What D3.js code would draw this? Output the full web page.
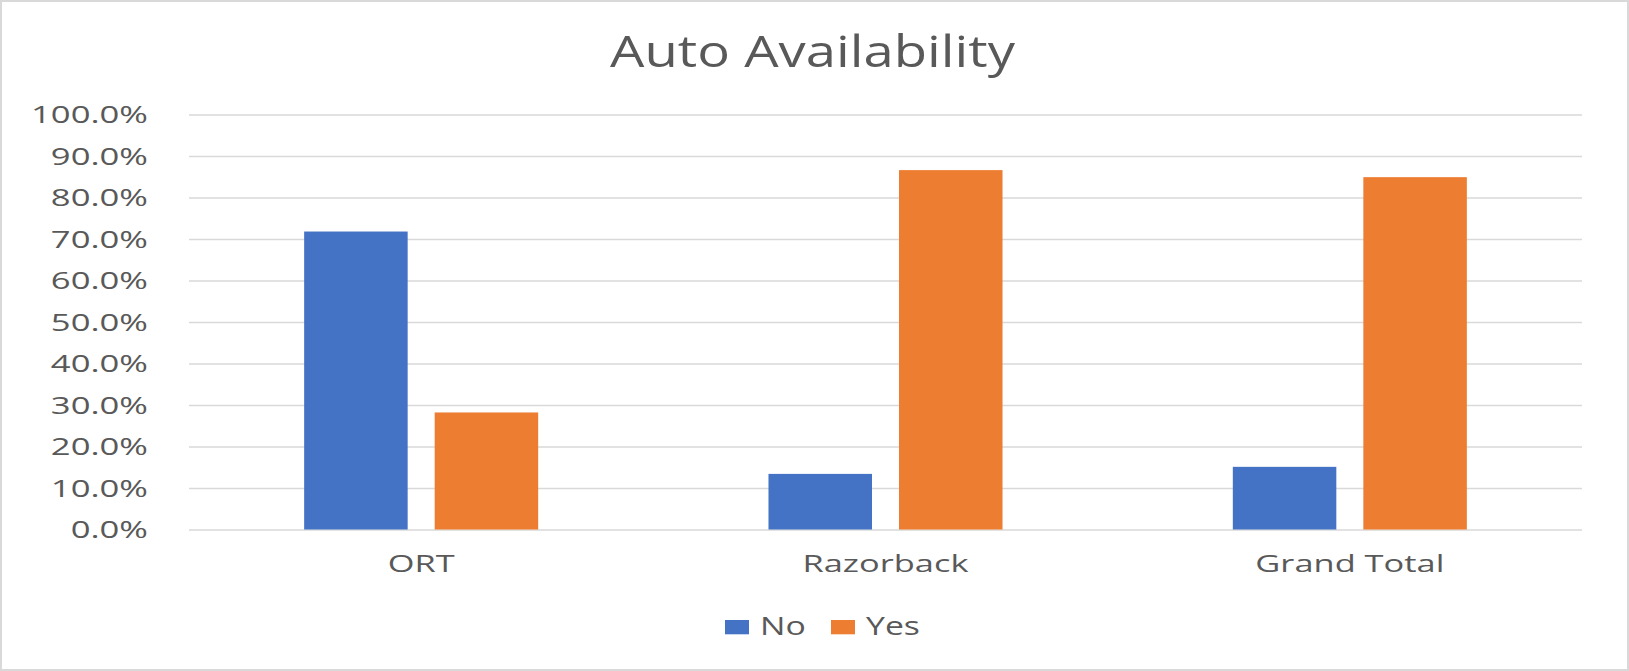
<!DOCTYPE html>
<html>
<head>
<meta charset="utf-8">
<script src="https://cdn.jsdelivr.net/npm/d3@7"></script>
<style>
  html, body { margin: 0; padding: 0; background: #fff; }
  svg { display: block; }
  text { font-family: "Open Sans", "Noto Sans", sans-serif; fill: #595959; }
</style>
</head>
<body>
<svg id="chart" width="1629" height="671"></svg>
<script>
// ---- data ----
const title = "Auto Availability";
const categories = ["ORT", "Razorback", "Grand Total"];
const seriesNames = ["No", "Yes"];
const noValues = [0.718, 0.134, 0.151];
const yesValues = [0.282, 0.866, 0.849];
const tickValues = [0, 0.1, 0.2, 0.3, 0.4, 0.5, 0.6, 0.7, 0.8, 0.9, 1.0];
const tickLabels = ["0.0%", "10.0%", "20.0%", "30.0%", "40.0%", "50.0%", "60.0%", "70.0%", "80.0%", "90.0%", "100.0%"];
const colors = ["#4472C4", "#ED7D31"];

// ---- layout ----
const W = 1629, H = 671;
const plot = { left: 189, right: 1582, top: 114.5, bottom: 529.5 };

const svg = d3.select("#chart");

// chart border
svg.append("rect")
  .attr("x", 1).attr("y", 1).attr("width", W - 2).attr("height", H - 2)
  .attr("fill", "#fff").attr("stroke", "#d9d9d9").attr("stroke-width", 2);

const x0 = d3.scaleBand().domain(categories).range([plot.left, plot.right]).paddingInner(0).paddingOuter(0);
const groupFrac = 0.504;
const x1 = d3.scaleBand().domain(seriesNames)
  .range([x0.bandwidth() * (1 - groupFrac) / 2, x0.bandwidth() * (1 + groupFrac) / 2])
  .paddingInner(0.207).paddingOuter(0);
const y = d3.scaleLinear().domain([0, 1]).range([plot.bottom, plot.top]);

// horizontal stretch helper: scale text horizontally to a target width of a reference string
function stretchFactor(str, fontSize, target) {
  const t = svg.append("text").attr("font-size", fontSize).text(str);
  const w = t.node().getComputedTextLength();
  t.remove();
  return target / w;
}

// gridlines
const grid = svg.append("g").attr("transform", `translate(${plot.left},0)`)
  .call(d3.axisLeft(y).tickValues(tickValues).tickSize(-(plot.right - plot.left)).tickFormat(""));
grid.select(".domain").remove();
grid.selectAll(".tick line").attr("stroke", "#d9d9d9").attr("stroke-width", 1.5);

// y axis labels
const tickFont = 24;
const sxTick = stretchFactor("100.0%", tickFont, 117);
const yAxis = svg.append("g").attr("transform", `translate(148,0)`)
  .call(d3.axisLeft(y).tickValues(tickValues).tickSize(0)
    .tickFormat((d, i) => tickLabels[i]));
yAxis.select(".domain").remove();
yAxis.selectAll(".tick text")
  .attr("x", 0).attr("dy", null).attr("y", 0)
  .attr("font-size", tickFont)
  .attr("text-anchor", "end")
  .attr("dominant-baseline", "central")
  .attr("transform", `translate(0,-1) scale(${sxTick},1)`)
  .style("font-family", "'Open Sans', sans-serif")
  .attr("fill", "#595959");

// bars
const series = [noValues, yesValues];
const groups = svg.append("g").selectAll("g")
  .data(categories).join("g")
  .attr("transform", d => `translate(${x0(d)},0)`);
groups.selectAll("rect")
  .data((c, ci) => seriesNames.map((s, si) => ({ s, v: series[si][ci], si })))
  .join("rect")
  .attr("x", d => x1(d.s))
  .attr("width", x1.bandwidth())
  .attr("y", d => y(d.v))
  .attr("height", d => y(0) - y(d.v))
  .attr("fill", d => colors[d.si]);

// category labels
const catFont = 24;
const sxCat = stretchFactor("Razorback", catFont, 166);
svg.append("g").selectAll("text")
  .data(categories).join("text")
  .attr("font-size", catFont)
  .attr("text-anchor", "middle")
  .attr("transform", d => `translate(${x0(d) + x0.bandwidth() / 2},572.3) scale(${sxCat},1)`)
  .text(d => d);

// title
const titleFont = 44;
const sxTitle = stretchFactor(title, titleFont, 405);
svg.append("text")
  .attr("font-size", titleFont)
  .attr("text-anchor", "middle")
  .attr("transform", `translate(812.5,66.7) scale(${sxTitle},1)`)
  .text(title);

// legend
const legFont = 25;
const sxLeg = stretchFactor("Yes", legFont, 54);
const legendX = [725, 831];
const leg = svg.append("g").selectAll("g")
  .data(seriesNames).join("g")
  .attr("transform", (d, i) => `translate(${legendX[i]},620)`);
leg.append("rect").attr("x", 0).attr("y", 0).attr("width", 24).attr("height", 14.3)
  .attr("fill", (d, i) => colors[i]);
leg.append("text")
  .attr("font-size", legFont)
  .attr("transform", `translate(35,15) scale(${sxLeg},1)`)
  .text(d => d);
</script>
</body>
</html>
